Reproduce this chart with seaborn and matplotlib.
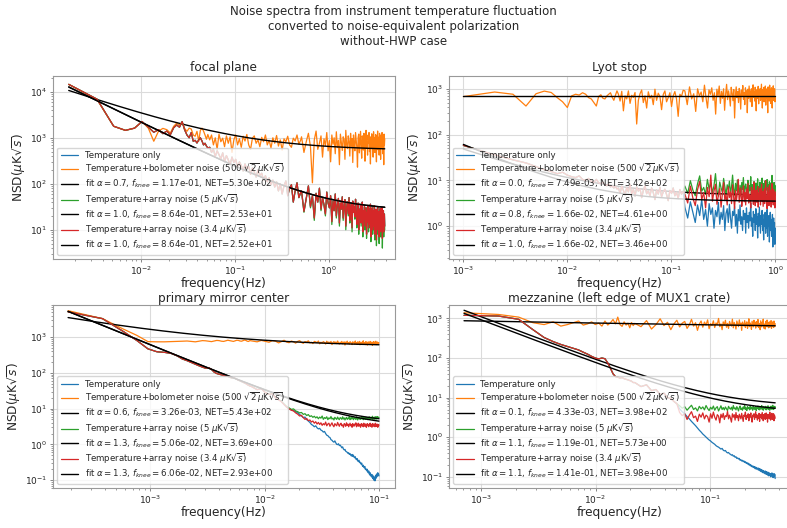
import numpy as np
import matplotlib
matplotlib.use("Agg")
import matplotlib.pyplot as plt
import seaborn as sns

# ---------------------------------------------------------------------------
# Noise spectral densities (uK sqrt(s)).  Each spectrum is stored as a
# low-frequency "head" sampled at k*df, followed by denser segments.
# ---------------------------------------------------------------------------

# ---- focal plane ----
fp_df = 1.72e-3
fp_mid_range = (0.054, 0.5)
fp_tail_range = (0.51, 3.9)
fp_bolo_head = [14500, 6800, 1780, 1450, 1620, 2250, 1620, 840, 1400, 1600,
                1500, 1270, 1770, 2080, 1900, 2150, 1600, 1380, 1620, 1550,
                1150, 1080, 1380, 840, 1450, 1620, 1400, 1150, 930, 1180]
fp_bolo_mid = [900, 1150, 700, 1000, 560, 1200, 820, 980, 640, 1100, 760, 1050,
               480, 900, 1150, 700, 950, 620, 1080, 850, 1180, 700, 560, 980,
               1100, 760, 900, 640, 1020, 820, 1150, 700, 880, 600, 1000, 760,
               1120, 660, 900, 540, 950, 820, 1080, 700, 620, 980, 850, 1150,
               720, 900]
fp_bolo_tail = [1050, 480, 820, 1250, 640, 105, 900, 1400, 560, 760, 1100, 380,
                950, 680, 1300, 520, 870, 300, 1150, 720, 1000, 450, 1350, 610,
                880, 260, 1200, 790, 530, 1050, 930, 340, 1450, 700, 580, 1100,
                820, 400, 1250, 660, 960, 290, 1150, 740, 520, 1300, 880, 610,
                230, 1000, 1200, 470, 780, 1380, 650, 360, 1100, 920, 540, 1250,
                700, 310, 980, 1450, 600, 820, 420, 1150, 760, 1300, 500, 880,
                270, 1050, 690, 1220, 570, 940, 380, 1350, 720, 1000, 480, 830,
                1180, 620, 300, 1100, 900, 1400, 550, 760, 1030, 420, 1250, 680,
                880, 340, 1150, 980, 600, 1300, 750, 450, 1080, 860, 260, 1200,
                700, 950]
fp_arr_head = [14500, 6900, 1780, 1450, 1620, 2250, 1700, 1320, 1500, 1230,
               1400, 1170, 1650, 1900, 1700, 2250, 1500, 1150, 1000, 1300,
               840, 880, 770, 900, 1000, 850, 700, 760, 660, 600]
fp_arr_mid = [620, 480, 560, 390, 520, 430, 350, 470, 300, 410, 330, 260, 380,
              290, 340, 230, 300, 250, 190, 270, 210, 240, 160, 220, 180, 140,
              200, 150, 170, 120, 150, 110, 135, 95, 120, 85, 110, 70, 100, 60,
              90, 115, 55, 80, 95, 40, 70, 105, 50, 65]
fp_red_tail = [70, 25, 48, 90, 32, 55, 18, 62, 40, 80, 28, 50, 35, 22, 66, 38,
               30, 55, 15, 42, 26, 60, 20, 35, 48, 14, 38, 28, 52, 18, 33, 45,
               12, 30, 40, 22, 50, 16, 28, 36, 11, 42, 24, 32, 19, 46, 26, 13,
               24, 38, 10, 28, 18, 35, 14, 22, 40, 9, 26, 17, 32, 12, 20, 30, 8,
               24, 15, 34, 11, 19, 28, 13, 36, 7, 22, 16, 30, 10, 18, 26, 12, 33,
               8, 20, 15, 28, 6, 23, 14, 31, 10, 18, 25, 7, 21, 13, 29, 9, 17,
               24, 11, 30, 6.5, 19, 14, 26, 9, 16, 22, 12]
fp_green_tail = [70, 24, 48, 90, 30, 55, 16, 62, 40, 80, 26, 50, 35, 20, 66, 38,
                 30, 55, 13, 42, 26, 60, 18, 35, 48, 12, 38, 28, 52, 16, 33, 45,
                 10, 30, 40, 20, 50, 14, 28, 36, 9, 42, 24, 32, 17, 46, 26, 11,
                 24, 38, 8, 28, 18, 35, 12, 22, 40, 7, 26, 17, 32, 10, 20, 30,
                 6.5, 24, 15, 34, 9, 19, 28, 11, 36, 5.5, 22, 16, 30, 8, 18, 26,
                 10, 33, 6, 20, 15, 28, 4.5, 23, 14, 31, 8, 18, 25, 5, 21, 13, 29,
                 7, 17, 24, 9, 30, 4, 19, 14, 26, 7, 16, 22, 10]
fp_fit_alpha = [0.7, 1.0, 1.0]
fp_fit_fknee = [1.17e-1, 8.64e-1, 8.64e-1]
fp_fit_net = [5.30e2, 2.53e1, 2.52e1]

# ---- Lyot stop ----
ly_df = 1.0e-3
ly_mid_range = (0.031, 0.13)
ly_tail_range = (0.135, 1.0)
ly_bolo_head = [675, 850, 760, 420, 780, 890, 830, 640, 520, 390, 700, 760,
                730, 820, 760, 640, 600, 500, 420, 680, 740, 620, 600, 700, 760,
                820, 650, 560, 720, 900]
ly_bolo_mid = [760, 540, 880, 330, 700, 600, 900, 480, 720, 650, 830, 170, 560,
               780, 940, 500, 700, 380, 860, 620, 720, 450, 980, 560, 800, 680,
               350, 750, 900, 520, 640, 820, 410, 700, 870, 600, 250, 760, 680,
               930]
ly_bolo_tail = [900, 450, 1100, 600, 780, 320, 1000, 700, 850, 520, 1200, 640,
                380, 950, 760, 1050, 560, 820, 280, 980, 700, 1150, 480, 880,
                620, 1000, 340, 760, 1250, 580, 900, 680, 420, 1080, 800, 550,
                960, 230, 720, 1100, 640, 870, 500, 1020, 760, 360, 940, 680,
                1180, 590, 830, 450, 1050, 720, 900, 300, 980, 620, 1150, 780,
                520, 880, 1000, 410, 760, 1220, 650, 860, 540, 1080, 720, 330,
                950, 800, 610, 1130, 470, 880, 700, 1000, 560, 820, 1260, 640,
                380, 960, 740, 1070, 520, 840, 690, 1150, 440, 900, 620, 1000,
                760, 300, 1100, 680, 860, 540, 1200, 720, 930, 480, 820, 1050,
                600, 380, 980, 700, 1160, 560, 880, 740, 1000, 520, 660]
ly_arr_head = [58, 36, 28, 24, 20, 17, 15.5, 14, 15, 13, 12, 11.5, 12.5, 10.5,
               10, 11, 9.5, 9, 10.5, 8.8, 8.5, 9.2, 8, 7.6, 8.4, 7.2, 7.5, 6.8,
               7.4, 6.5]
ly_arr_mid = [6.8, 5.2, 7.5, 6.0, 4.8, 7.0, 5.6, 8.2, 5.0, 6.4, 4.5, 7.2, 5.8,
              6.6, 4.2, 6.0, 7.6, 5.1, 5.9, 4.6, 6.8, 5.4, 3.8, 6.2, 5.0, 7.0,
              4.4, 5.6, 6.4, 4.9, 3.6, 6.0, 5.2, 6.8, 4.6, 5.5, 4.0, 6.3, 5.0,
              5.7]
ly_green_tail = [7.5, 5.2, 9.8, 6.1, 4.6, 8.4, 12.5, 5.8, 7.0, 4.9, 10.5, 6.4,
                 8.8, 5.3, 7.7, 14.0, 6.0, 4.5, 9.2, 6.8, 5.5, 11.0, 7.2, 4.8,
                 8.0, 6.2, 9.6, 5.1, 7.4, 13.0, 6.6, 4.7, 8.6, 5.9, 10.2, 6.9,
                 5.2, 7.8, 4.6, 9.0, 6.3, 11.5, 5.6, 7.1, 8.3, 4.9, 6.7, 10.0,
                 5.4, 7.6, 6.0, 12.0, 5.0, 8.1, 6.5, 4.4, 9.4, 7.0, 5.7, 8.7,
                 4.8, 6.2, 10.8, 5.5, 7.3, 6.1, 9.1, 4.7, 7.9, 5.8, 11.2, 6.4,
                 5.0, 8.5, 6.9, 4.5, 9.8, 5.9, 7.2, 6.3, 10.4, 5.2, 8.0, 4.9,
                 6.8, 9.3, 5.6, 7.5, 4.6, 8.9, 6.0, 12.8, 5.3, 7.0, 6.6, 4.8,
                 9.0, 5.7, 7.8, 5.1]
ly_red_tail = [5.0, 3.2, 7.5, 4.1, 2.8, 6.2, 9.5, 3.8, 5.4, 2.5, 7.0, 4.4, 13.0,
               3.5, 5.8, 8.2, 3.0, 4.7, 6.6, 2.6, 5.1, 9.0, 3.6, 4.9, 2.9, 7.2,
               4.2, 5.6, 3.1, 8.0, 4.5, 2.4, 6.0, 3.7, 5.2, 10.5, 3.3, 4.8, 6.8,
               2.7, 4.3, 7.6, 3.4, 5.5, 2.9, 6.4, 4.0, 8.6, 3.2, 5.0, 4.6, 2.5,
               7.0, 3.8, 5.9, 3.0, 9.2, 4.2, 2.8, 6.1, 4.9, 3.3, 7.4, 2.6, 5.3,
               3.9, 6.7, 2.9, 4.5, 8.3, 3.5, 5.7, 2.7, 4.1, 6.5, 3.1, 5.0, 9.8,
               3.6, 4.4, 2.4, 6.9, 3.9, 5.4, 2.8, 7.8, 4.6, 3.2, 6.0, 2.6, 4.7,
               8.5, 3.4, 5.2, 2.9, 6.3, 3.7, 4.9, 2.5, 5.6]
ly_blue_tail = [2.6, 1.5, 3.4, 2.0, 1.2, 2.9, 1.7, 3.8, 1.4, 2.3, 1.0, 3.1, 1.8,
                2.5, 0.9, 2.2, 1.6, 3.3, 1.1, 2.0, 1.4, 2.8, 0.8, 1.9, 2.4, 1.2,
                3.0, 1.5, 0.9, 2.1, 1.7, 2.7, 1.0, 1.8, 0.7, 2.3, 1.3, 2.9, 1.1,
                1.6, 0.8, 2.2, 1.4, 1.9, 0.7, 2.5, 1.2, 1.7, 0.9, 2.0, 1.3, 3.2,
                1.0, 1.5, 0.6, 2.1, 1.2, 1.8, 0.8, 2.4, 1.1, 1.6, 0.55, 1.9, 1.0,
                2.6, 1.3, 0.7, 1.7, 1.1, 2.2, 0.8, 1.4, 0.5, 1.8, 1.0, 2.0, 0.7,
                1.3, 0.9, 2.3, 0.6, 1.5, 1.0, 1.7, 0.45, 1.2, 2.0, 0.8, 1.4, 0.6,
                1.1, 1.8, 0.35, 1.0, 1.5, 0.7, 1.2, 0.4, 0.9]
ly_fit_alpha = [0.0, 0.8, 1.0]
ly_fit_fknee = [7.49e-3, 1.66e-2, 1.66e-2]
ly_fit_net = [3.42e2, 4.61, 3.46]

# ---- primary mirror center ----
pm_df = 1.9e-4
pm_tail_range = (0.0078, 0.1)
pm_bolo_head = [5500, 3300, 1720, 1120, 750, 740, 740, 750, 760, 770, 780, 760,
                740, 770, 800, 790, 770, 750, 780, 810, 800, 770, 760, 790, 820,
                800, 780, 760, 790, 820, 810, 780, 770, 800, 830, 810, 770, 760,
                800, 790]
pm_bolo_tail = [780, 740, 810, 760, 720, 800, 770, 690, 750, 820, 730, 700, 780,
                740, 680, 760, 800, 710, 670, 750, 730, 790, 690, 720, 660, 760,
                740, 700, 780, 650, 720, 690, 750, 710, 640, 770, 700, 730, 680,
                760, 620, 710, 750, 690, 730, 660, 780, 700, 640, 720, 690, 760,
                650, 710, 740, 600, 730, 690, 770, 660, 700, 640, 750, 710, 680,
                620, 740, 690, 720, 650, 780, 670, 700, 630, 740, 690, 660, 760,
                610, 720, 700, 650, 730, 680, 790, 640, 710, 690, 620, 750, 670,
                720, 600, 700, 740, 660, 690, 630, 760, 680, 710, 650, 730, 590,
                700, 680, 750, 640, 720, 660, 690, 770, 620, 700, 680, 730, 650,
                710, 670, 690]
pm_arr_head = [5100, 3300, 1480, 805, 470, 390, 375, 350, 300, 245, 220, 195,
               175, 158, 145, 135, 140, 125, 105, 96, 92, 88, 84, 82, 80, 76, 72,
               74, 70, 66, 62, 60, 57, 55, 52, 50, 47, 45, 43, 42]
pm_blue_tail = [40, 34, 36, 28, 25, 26, 20, 18, 16, 13, 11,
                10, 9.2, 8.8, 8.2, 7.6, 6.9,
                6.2, 5.6, 5.8, 4.9, 4.5, 4.1, 3.6, 3.4,
                3.1, 3.3, 2.9, 2.7, 2.8, 2.5, 2.4, 2.2,
                2.3, 2.0, 1.8, 1.75, 1.6, 1.55, 1.35, 1.3, 1.2,
                1.15, 1.25, 1.1, 1.0, 0.98, 1.04, 0.92, 0.95,
                0.88, 0.8, 0.85, 0.74, 0.7, 0.72, 0.64, 0.62,
                0.6, 0.56, 0.58, 0.52, 0.55, 0.5, 0.47, 0.52, 0.46, 0.5,
                0.44, 0.42, 0.45, 0.39, 0.37, 0.4, 0.35, 0.33, 0.36, 0.31, 0.32,
                0.29, 0.28, 0.3, 0.26, 0.24, 0.26, 0.23, 0.22, 0.24, 0.2, 0.21,
                0.19,
                0.18, 0.2, 0.17, 0.16, 0.18, 0.15, 0.14, 0.16, 0.13, 0.145,
                0.135,
                0.12, 0.14, 0.11, 0.13, 0.1, 0.12, 0.115, 0.095, 0.13, 0.11,
                0.14, 0.12, 0.15, 0.13, 0.16, 0.14, 0.15, 0.13]
pm_green_tail = [41, 34, 37, 28, 25, 27, 20, 18, 16, 13.5, 11.5, 10.5, 9.5, 9.8,
                 8.6, 8.2, 7.6, 7.8, 6.9, 7.2, 6.4, 6.8, 6.0, 6.3, 5.7, 6.1, 5.5,
                 5.9, 5.2, 5.8, 5.4, 6.2, 5.0, 5.6, 5.3, 5.9, 4.9, 5.5, 5.2, 6.0,
                 5.1, 5.4, 4.8, 5.7, 5.3, 5.0, 5.8, 5.2, 4.9, 5.6, 5.4, 5.0, 5.9,
                 5.1, 5.5, 4.8, 5.3, 5.7, 5.0, 5.4, 5.2, 6.0, 4.9, 5.5, 5.1, 5.8,
                 5.3, 4.9, 5.6, 5.2, 5.4, 5.0, 5.9, 5.3, 4.8, 5.6, 5.2, 5.7, 5.0,
                 5.4, 5.1, 6.0, 5.3, 5.5, 4.9, 5.7, 5.2, 5.4, 5.0, 5.8, 5.3, 5.1,
                 5.6, 4.9, 5.5, 5.2, 5.9, 5.0, 5.4, 5.7, 5.1, 5.5, 5.3, 6.1, 5.0,
                 5.6, 5.2, 5.8, 5.4, 5.0, 5.9, 5.3, 5.6, 5.1, 6.0, 5.5, 5.3, 5.8,
                 5.4, 5.7]
pm_red_tail = [40, 34, 36, 28, 25, 26, 20, 17.5, 15.5, 13, 11, 9.8, 9.0, 8.6,
               7.6, 7.0, 6.2, 6.5, 5.6, 5.0, 5.3, 4.6, 4.8, 4.2, 4.5, 3.9, 4.3,
               3.7, 4.1, 3.6, 4.0, 3.4, 3.8, 3.5, 4.2, 3.3, 3.7, 3.9, 3.2, 3.6,
               4.0, 3.4, 3.1, 3.8, 3.5, 3.3, 4.1, 3.6, 3.2, 3.7, 3.9, 3.3, 3.5,
               3.0, 3.8, 3.6, 3.2, 4.0, 3.4, 3.7, 3.1, 3.5, 3.9, 3.3, 3.6, 3.0,
               3.8, 3.4, 3.2, 3.7, 3.5, 4.0, 3.1, 3.6, 3.3, 3.9, 3.2, 3.5, 3.7,
               3.0, 3.4, 3.8, 3.3, 3.6, 3.1, 3.9, 3.4, 3.2, 3.7, 3.5, 3.0, 3.6,
               3.8, 3.3, 3.5, 3.1, 3.7, 3.4, 3.9, 3.2, 3.6, 3.3, 3.0, 3.8, 3.5,
               3.2, 3.7, 3.4, 3.6, 3.1, 3.9, 3.3, 3.5, 3.2, 3.7, 3.4, 3.0, 3.6,
               3.3, 3.5]
pm_fit_alpha = [0.6, 1.3, 1.3]
pm_fit_fknee = [3.26e-3, 5.06e-2, 6.06e-2]
pm_fit_net = [5.43e2, 3.69, 2.93]

# ---- mezzanine (left edge of MUX1 crate) ----
mz_df = 7.1e-4
mz_tail_range = (0.022, 0.37)
mz_bolo_head = [1390, 1260, 1080, 780, 700, 820, 640, 700, 780, 860, 680, 730,
                820, 700, 760, 640, 860, 680, 780, 940, 730, 1080, 700, 630, 820,
                680, 760, 580, 790, 660]
mz_bolo_tail = [750, 620, 880, 540, 700, 980, 660, 800, 520, 730, 900, 610, 760,
                840, 560, 690, 950, 640, 780, 500, 720, 860, 600, 810, 680, 920,
                550, 740, 660, 870, 590, 770, 700, 1000, 620, 730, 520, 820, 680,
                900, 600, 750, 560, 840, 710, 640, 960, 580, 790, 690, 540, 860,
                730, 620, 920, 670, 760, 500, 810, 700, 640, 880, 590, 740, 820,
                560, 690, 980, 620, 770, 680, 530, 850, 720, 610, 900, 660, 780,
                570, 830, 700, 640, 940, 590, 750, 680, 520, 870, 730, 610, 800,
                660, 960, 570, 720, 690, 540, 840, 750, 620, 910, 650, 780, 580,
                700, 820, 600, 740, 680, 880, 560, 760, 640, 820, 700, 590, 860,
                680, 620, 740]
mz_arr_head = [1200, 1150, 950, 520, 330, 260, 220, 195, 175, 160, 140, 125, 110,
               100, 95, 100, 96, 75, 55, 40, 34, 33, 31, 32, 30, 29, 28, 27, 26,
               24]
mz_arr_tail_start = [24, 19, 21, 15, 16, 12, 13, 10, 9.5, 8, 7]
mz_blue_tail = [5.2, 4.4, 3.9, 3.3, 2.9, 2.5,
                2.2, 1.95, 1.7, 1.5, 1.35, 1.2, 1.1,
                1.0, 0.92, 0.85, 0.8, 0.74, 0.7, 0.66, 0.61, 0.58, 0.56,
                0.53, 0.5, 0.52, 0.47, 0.45, 0.46, 0.42, 0.4, 0.41, 0.38, 0.37,
                0.35,
                0.36, 0.33, 0.34, 0.31, 0.32, 0.29, 0.3, 0.28, 0.29, 0.26, 0.27,
                0.25, 0.26, 0.24, 0.25, 0.23,
                0.24, 0.22, 0.23, 0.21, 0.22, 0.2, 0.21, 0.19, 0.2, 0.18, 0.19,
                0.175, 0.185, 0.17, 0.18, 0.16, 0.175, 0.155, 0.17, 0.16,
                0.15, 0.165, 0.145, 0.16, 0.14, 0.155, 0.135, 0.15, 0.13, 0.145,
                0.125, 0.14, 0.13, 0.12, 0.14, 0.125, 0.115, 0.135, 0.12, 0.11,
                0.13, 0.115, 0.105, 0.125, 0.11, 0.12, 0.1, 0.12,
                0.11, 0.125, 0.1, 0.115, 0.095, 0.11, 0.12, 0.1, 0.115, 0.09]
mz_green_tail = [6.2, 5.4, 5.9, 4.8, 5.6, 6.4, 5.0, 5.5, 4.6, 6.0, 5.2, 5.8, 4.9,
                 6.3, 5.3, 4.7, 5.7, 5.1, 6.1, 4.8, 5.5, 5.9, 4.6, 5.3, 6.2, 5.0,
                 5.6, 4.9, 5.8, 5.2, 4.7, 6.0, 5.4, 5.1, 5.7, 4.8, 6.3, 5.2, 5.5,
                 4.9, 5.9, 5.3, 4.6, 5.6, 6.1, 5.0, 5.4, 4.8, 5.8, 5.2, 6.4, 5.0,
                 5.5, 4.7, 5.9, 5.3, 5.6, 4.9, 6.0, 5.1, 5.7, 5.4, 4.8, 6.2, 5.2,
                 5.5, 5.0, 5.9, 4.7, 5.6, 5.3, 6.1, 5.0, 5.4, 4.9, 5.8, 5.2, 5.6,
                 6.3, 5.0, 5.5, 4.8, 5.9, 5.3, 5.7, 5.1, 6.0, 4.9, 5.4, 5.8, 5.2,
                 6.2, 5.0, 5.6, 5.3, 4.8, 5.9, 5.5, 6.1, 5.1, 5.7, 5.3, 6.4, 5.0,
                 5.6, 5.9, 5.2, 6.0, 5.5]
mz_red_tail = [4.2, 3.5, 3.9, 2.8, 3.6, 4.4, 3.1, 3.4, 2.5, 3.8, 3.2, 4.1, 2.9,
               3.6, 3.3, 2.4, 3.9, 3.0, 4.3, 3.2, 2.7, 3.7, 3.4, 2.3, 3.8, 3.1,
               4.0, 2.8, 3.5, 3.3, 4.5, 2.9, 3.6, 3.0, 2.4, 3.9, 3.2, 3.7, 2.7,
               4.2, 3.1, 3.5, 2.6, 3.8, 3.3, 2.9, 4.0, 3.2, 2.5, 3.6, 3.4, 4.3,
               2.8, 3.5, 3.1, 3.9, 2.6, 3.7, 3.2, 4.1, 3.0, 2.4, 3.6, 3.3, 3.9,
               2.8, 3.5, 4.4, 3.1, 3.7, 2.7, 3.4, 3.0, 4.0, 2.5, 3.6, 3.2, 3.8,
               2.9, 4.2, 3.3, 2.6, 3.7, 3.1, 3.9, 2.8, 3.5, 4.1, 3.0, 3.4, 2.4,
               3.8, 3.2, 3.6, 2.9, 4.3, 3.3, 2.7, 3.7, 3.1, 4.0, 2.8, 3.5, 3.2,
               3.9, 2.6, 3.6, 3.4, 3.0]
mz_fit_alpha = [0.1, 1.1, 1.1]
mz_fit_fknee = [4.33e-3, 1.19e-1, 1.41e-1]
mz_fit_net = [3.98e2, 5.73, 3.98]

panel_titles = ["focal plane", "Lyot stop", "primary mirror center",
                "mezzanine (left edge of MUX1 crate)"]
series_labels = ["Temperature only",
                 r"Temperature+bolometer noise (500 $\sqrt{2}\mu$K$\sqrt{s}$)",
                 r"Temperature+array noise (5 $\mu$K$\sqrt{s}$)",
                 r"Temperature+array noise (3.4 $\mu$K$\sqrt{s}$)"]
series_colors = ["#1f77b4", "#ff7f0e", "#2ca02c", "#d62728"]
axis_limits = [((1.17e-3, 4.96), (2.3, 2.2e4)),
               ((7.2e-4, 1.39), (0.19, 1.9e3)),
               ((1.4e-4, 0.137), (0.06, 8.0e3)),
               ((5.2e-4, 0.50), (0.052, 2.2e3))]


def spectrum_freqs(df, n_head, segments):
    """Frequencies: k*df for the head, then log- or linearly spaced segments."""
    parts = [df * np.arange(1, n_head + 1)]
    for spacing, (lo, hi), n in segments:
        if spacing == "log":
            parts.append(np.geomspace(lo, hi, n))
        else:
            parts.append(np.linspace(lo, hi, n))
    return np.concatenate(parts)


def spectrum(df, head, segs):
    values = list(head)
    segments = []
    for spacing, rng, vals in segs:
        values += list(vals)
        segments.append((spacing, rng, len(vals)))
    return spectrum_freqs(df, len(head), segments), np.asarray(values, float)


def knee_model(f, alpha, fknee, net):
    return net * (1.0 + (fknee / f) ** alpha)


# assemble spectra: order = temperature only, +bolometer, +array(5), +array(3.4)
fp_spectra = [
    spectrum(fp_df, fp_arr_head, [("log", fp_mid_range, fp_arr_mid),
                                  ("lin", fp_tail_range, fp_red_tail)]),
    spectrum(fp_df, fp_bolo_head, [("log", fp_mid_range, fp_bolo_mid),
                                   ("lin", fp_tail_range, fp_bolo_tail)]),
    spectrum(fp_df, fp_arr_head, [("log", fp_mid_range, fp_arr_mid),
                                  ("lin", fp_tail_range, fp_green_tail)]),
    spectrum(fp_df, fp_arr_head, [("log", fp_mid_range, fp_arr_mid),
                                  ("lin", fp_tail_range, fp_red_tail)]),
]

ly_spectra = [
    spectrum(ly_df, ly_arr_head, [("log", ly_mid_range, ly_arr_mid),
                                  ("lin", ly_tail_range, ly_blue_tail)]),
    spectrum(ly_df, ly_bolo_head, [("log", ly_mid_range, ly_bolo_mid),
                                   ("lin", ly_tail_range, ly_bolo_tail)]),
    spectrum(ly_df, ly_arr_head, [("log", ly_mid_range, ly_arr_mid),
                                  ("lin", ly_tail_range, ly_green_tail)]),
    spectrum(ly_df, ly_arr_head, [("log", ly_mid_range, ly_arr_mid),
                                  ("lin", ly_tail_range, ly_red_tail)]),
]

pm_spectra = [spectrum(pm_df, pm_arr_head, [("lin", pm_tail_range, pm_blue_tail)]),
              spectrum(pm_df, pm_bolo_head, [("lin", pm_tail_range, pm_bolo_tail)]),
              spectrum(pm_df, pm_arr_head, [("lin", pm_tail_range, pm_green_tail)]),
              spectrum(pm_df, pm_arr_head, [("lin", pm_tail_range, pm_red_tail)])]

mz_spectra = [spectrum(mz_df, mz_arr_head,
                       [("lin", mz_tail_range, mz_arr_tail_start + mz_blue_tail)]),
              spectrum(mz_df, mz_bolo_head, [("lin", mz_tail_range, mz_bolo_tail)]),
              spectrum(mz_df, mz_arr_head,
                       [("lin", mz_tail_range, mz_arr_tail_start + mz_green_tail)]),
              spectrum(mz_df, mz_arr_head,
                       [("lin", mz_tail_range, mz_arr_tail_start + mz_red_tail)])]

panel_spectra = [fp_spectra, ly_spectra, pm_spectra, mz_spectra]
panel_fits = [(fp_fit_alpha, fp_fit_fknee, fp_fit_net),
              (ly_fit_alpha, ly_fit_fknee, ly_fit_net),
              (pm_fit_alpha, pm_fit_fknee, pm_fit_net),
              (mz_fit_alpha, mz_fit_fknee, mz_fit_net)]

# ---------------------------------------------------------------------------
sns.set_style("whitegrid", {"axes.edgecolor": ".6", "grid.color": ".86",
                            "xtick.bottom": True, "ytick.left": True})
plt.rcParams.update({
    "font.family": ["DejaVu Sans"],
    "axes.titlesize": 8.7, "axes.labelsize": 8.7,
    "axes.titlepad": 1.8, "axes.labelpad": 0.3,
    "xtick.labelsize": 6.5, "ytick.labelsize": 6.5,
    "xtick.major.pad": 1.3, "ytick.major.pad": 1.5,
    "xtick.labelcolor": ".15", "ytick.labelcolor": ".15",
    "legend.fontsize": 6.2,
    "xtick.major.size": 2.5, "ytick.major.size": 2.5,
    "xtick.minor.size": 1.6, "ytick.minor.size": 1.6,
    "xtick.major.width": 0.6, "ytick.major.width": 0.6,
    "xtick.minor.width": 0.5, "ytick.minor.width": 0.5,
    "xtick.color": ".45", "ytick.color": ".45",
    "axes.linewidth": 0.8, "grid.linewidth": 0.8,
})

fig, axes = plt.subplots(2, 2, figsize=(7.87, 5.28), dpi=100)
fig.subplots_adjust(left=0.0673, right=1.004, bottom=0.0758, top=0.856,
                    wspace=0.158, hspace=0.25)

for ax, title, spectra, fits, (xl, yl) in zip(axes.flat, panel_titles,
                                              panel_spectra, panel_fits,
                                              axis_limits):
    ax.set_xscale("log")
    ax.set_yscale("log")
    f_lo = min(s[0][0] for s in spectra)
    f_hi = max(s[0][-1] for s in spectra)
    f_fit = np.geomspace(f_lo, f_hi, 300)
    alphas, fknees, nets = fits
    for i, ((freq, nsd), label, color) in enumerate(zip(spectra, series_labels,
                                                        series_colors)):
        sns.lineplot(x=freq, y=nsd, ax=ax, color=color, label=label, lw=0.9,
                     estimator=None, sort=False)
        if i >= 1:
            j = i - 1
            fit_label = (rf"fit $\alpha={alphas[j]:.1f}$, $f_{{knee}}=${fknees[j]:.2e}, "
                         f"NET={nets[j]:.2e}")
            sns.lineplot(x=f_fit, y=knee_model(f_fit, alphas[j], fknees[j], nets[j]),
                         ax=ax, color="black", lw=1.0, label=fit_label,
                         estimator=None, sort=False)
    ax.set_xlim(*xl)
    ax.set_ylim(*yl)
    ax.set_title(title, pad=3.5 if ax in axes[0] else 1.8)
    ax.set_xlabel("frequency(Hz)")
    ax.set_ylabel(r"NSD($\mu$K$\sqrt{s}$)", labelpad=1.5)
    ax.grid(True, which="major")
    ax.grid(False, which="minor")
    ax.legend(loc="lower left", framealpha=0.8, labelspacing=0.2)

fig.suptitle("Noise spectra from instrument temperature fluctuation\n"
             "converted to noise-equivalent polarization\nwithout-HWP case",
             fontsize=8.5, y=0.991, va="top")

fig.savefig("out.png", dpi=100)
